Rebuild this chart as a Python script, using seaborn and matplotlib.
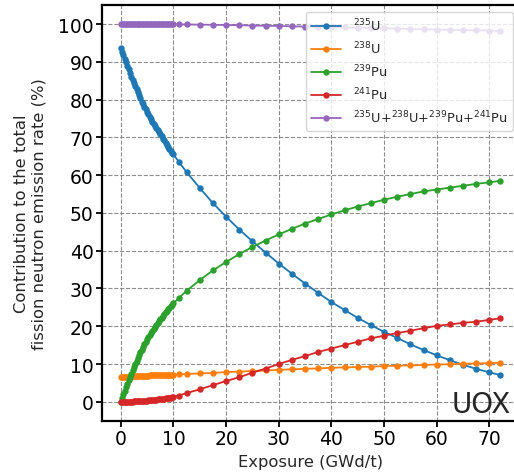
import matplotlib
matplotlib.use("Agg")
import matplotlib.pyplot as plt
import pandas as pd
import seaborn as sns

# exposure points (GWd/t): dense start, then 2.5 steps
exposure = [0.0, 0.25, 0.5, 0.75, 1.0, 1.25, 1.5, 1.75, 2.0, 2.25, 2.5, 2.75,
            3.0, 3.25, 3.5, 3.75, 4.0, 4.25, 4.5, 4.75, 5.0, 5.25, 5.5, 5.75,
            6.0, 6.25, 6.5, 6.75, 7.0, 7.25, 7.5, 7.75, 8.0, 8.25, 8.5, 8.75,
            9.0, 9.25, 9.5, 9.75, 10.0,
            11.0, 12.5, 15.0, 17.5, 20.0, 22.5, 25.0, 27.5, 30.0, 32.5, 35.0,
            37.5, 40.0, 42.5, 45.0, 47.5, 50.0, 52.5, 55.0, 57.5, 60.0, 62.5,
            65.0, 67.5, 70.0, 72.0]

u235 = [93.6, 92.7, 91.8, 90.8, 89.9, 88.9, 88.0, 87.0, 86.1, 85.2, 84.4, 83.5,
        82.7, 81.9, 81.1, 80.3, 79.5, 78.8, 78.1, 77.4, 76.8, 76.1, 75.5, 74.8,
        74.2, 73.6, 73.0, 72.5, 71.9, 71.4, 70.8, 70.3, 69.7, 69.2, 68.6, 68.1,
        67.5, 67.0, 66.5, 66.0, 65.5,
        63.6, 60.8, 56.6, 52.6, 49.0, 45.6, 42.5, 39.5, 36.6, 33.9, 31.3, 28.8,
        26.4, 24.3, 22.2, 20.3, 18.5, 16.9, 15.2, 13.7, 12.3, 11.0, 9.8, 8.7,
        7.8, 7.1]

u238 = [6.45, 6.5, 6.55, 6.58, 6.62, 6.65, 6.67, 6.69, 6.72, 6.74, 6.76, 6.78,
        6.8, 6.82, 6.84, 6.85, 6.87, 6.89, 6.9, 6.92, 6.94, 6.95, 6.97, 6.98,
        7.0, 7.01, 7.03, 7.04, 7.06, 7.07, 7.09, 7.1, 7.12, 7.13, 7.14, 7.16,
        7.17, 7.18, 7.2, 7.21, 7.22,
        7.25, 7.35, 7.5, 7.65, 7.85, 8.0, 8.15, 8.3, 8.45, 8.6, 8.72, 8.85,
        9.0, 9.1, 9.2, 9.3, 9.45, 9.55, 9.65, 9.75, 9.85, 9.95, 10.05, 10.15,
        10.25, 10.3]

pu239 = [0.0, 1.0, 2.0, 2.95, 3.85, 4.8, 5.7, 6.6, 7.45, 8.3, 9.15, 9.95,
         10.75, 11.5, 12.3, 13.05, 13.8, 14.5, 15.2, 15.85, 16.5, 17.15, 17.7,
         18.3, 18.85, 19.4, 19.9, 20.4, 20.9, 21.4, 21.85, 22.3, 22.8, 23.25,
         23.7, 24.1, 24.55, 24.95, 25.35, 25.7, 26.1,
         27.4, 29.4, 32.2, 34.8, 37.0, 39.1, 41.0, 42.7, 44.3, 45.8, 47.2,
         48.4, 49.6, 50.7, 51.7, 52.6, 53.5, 54.3, 55.0, 55.7, 56.2, 56.7,
         57.2, 57.7, 58.1, 58.5]

pu241 = [0.0, 0.0, 0.0, 0.01, 0.01, 0.02, 0.03, 0.04, 0.05, 0.06, 0.08, 0.09,
         0.11, 0.13, 0.15, 0.17, 0.2, 0.22, 0.25, 0.28, 0.31, 0.34, 0.38, 0.41,
         0.45, 0.49, 0.53, 0.57, 0.62, 0.66, 0.71, 0.76, 0.8, 0.86, 0.91, 0.97,
         1.02, 1.08, 1.13, 1.19, 1.25,
         1.65, 2.3, 3.3, 4.4, 5.5, 6.5, 7.7, 8.8, 10.0, 11.1, 12.1, 13.2, 14.1,
         15.0, 15.9, 16.8, 17.5, 18.2, 18.8, 19.5, 20.1, 20.5, 20.9, 21.2,
         21.7, 22.1]

total = [100.0, 100.0, 100.0, 100.0, 100.0, 100.0, 100.0, 100.0, 100.0, 100.0,
         99.99, 99.99, 99.99, 99.99, 99.99, 99.99, 99.99, 99.99,
         99.98, 99.98, 99.98, 99.98, 99.98, 99.98, 99.98, 99.98,
         99.97, 99.97, 99.97, 99.97, 99.97, 99.97, 99.97, 99.97,
         99.96, 99.96, 99.96, 99.96, 99.96, 99.96, 99.96,
         99.9, 99.9, 99.85, 99.8, 99.75, 99.7, 99.6, 99.55, 99.5, 99.4, 99.35,
         99.3, 99.2, 99.1, 99.0, 98.95, 98.9, 98.8, 98.7, 98.6, 98.55, 98.5,
         98.4, 98.35, 98.3, 98.2]

labels = [r"$^{235}$U", r"$^{238}$U", r"$^{239}$Pu", r"$^{241}$Pu",
          r"$^{235}$U+$^{238}$U+$^{239}$Pu+$^{241}$Pu"]
colors = ["#1f77b4", "#ff7f0e", "#2ca02c", "#d62728", "#9467bd"]

frames = []
for lab, vals in zip(labels, [u235, u238, pu239, pu241, total]):
    frames.append(pd.DataFrame({"exposure": exposure, "contrib": vals, "iso": lab}))
df = pd.concat(frames, ignore_index=True)

sns.set_style("ticks")

fig = plt.figure(figsize=(5.14, 4.77), dpi=100)
ax = fig.add_axes([0.198, 0.116, 0.8117, 0.871])

sns.lineplot(data=df, x="exposure", y="contrib", hue="iso", hue_order=labels,
             palette=colors, marker="o", markersize=4.6, markeredgewidth=0,
             linewidth=1.3, ax=ax, sort=False)

ax.set_xlim(-3.6, 75.6)
ax.set_ylim(-5, 105)
ax.set_xticks(range(0, 71, 10))
ax.set_yticks(range(0, 101, 10))
ax.grid(True, color="gray", linestyle="--", linewidth=0.8, alpha=0.9)
ax.set_axisbelow(True)

for side in ["left", "bottom", "top", "right"]:
    ax.spines[side].set_visible(True)
    ax.spines[side].set_color("black")
    ax.spines[side].set_linewidth(1.6)

ax.tick_params(direction="out", length=4, width=1.3, labelsize=13.5, pad=2,
               colors="black")
ax.set_xlabel("Exposure (GWd/t)", fontsize=11.8)
ax.set_ylabel("Contribution to the total\nfission neutron emission rate (%)",
              fontsize=11.8, labelpad=8)

ax.text(0.98, 0.021, "UOX", transform=ax.transAxes, ha="right",
        va="baseline", fontsize=20)

handles, _ = ax.get_legend_handles_labels()
ax.legend(handles=handles, labels=labels, loc="upper right", fontsize=9.3,
          handlelength=2.3, handletextpad=0.9, frameon=True, framealpha=0.8,
          title=None)

fig.savefig("out.png", dpi=100)
plt.close(fig)
